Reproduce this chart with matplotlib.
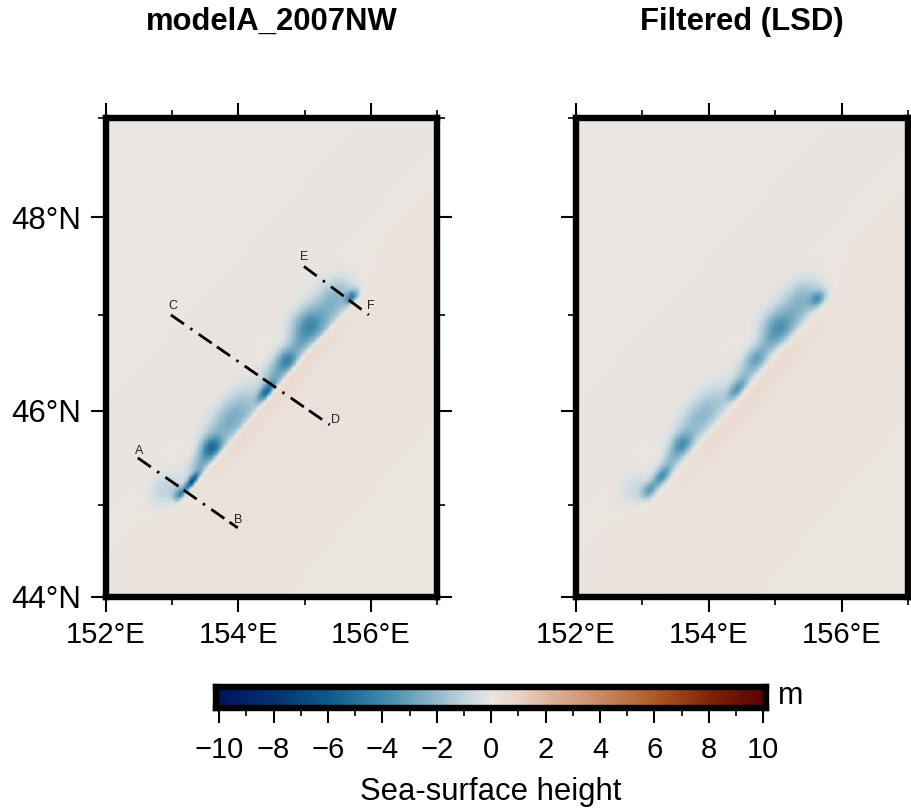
import numpy as np
import matplotlib
matplotlib.use("Agg")
import matplotlib.pyplot as plt
from matplotlib.colors import LinearSegmentedColormap
from matplotlib.ticker import NullFormatter

plt.rcParams['font.family'] = ['Liberation Sans', 'DejaVu Sans']
plt.rcParams['lines.scale_dashes'] = False

# colour scale samples (value fraction, colour)
cmap_pos = [0, .1, .2, .3, .4, .47, .5, .55, .6, .7, .8, .9, 1]
cmap_col = ['#001261', '#03326f', '#0c5a8e', '#3e88ab', '#93bacd', '#d3dee2', '#ebe5e0',
            '#e9d3c5', '#dfb69d', '#c98a62', '#ad5a24', '#7f2404', '#590008']

# SE edge of the elongated low
edge_lon = [153.12, 153.45, 154.58, 154.97, 155.83]
edge_lat = [45.06, 45.33, 46.25, 46.57, 47.20]

# left panel lows: lon, lat, amplitude (m), along-strike and cross-strike width (deg)
a_lon = [153.31, 153.14, 152.90, 153.44, 153.60, 153.78, 154.05, 154.43, 154.58, 154.75, 154.92, 155.05, 155.28, 155.72, 155.50]
a_lat = [45.24, 45.10, 45.17, 45.43, 45.61, 45.82, 46.00, 46.20, 46.38, 46.53, 46.70, 46.88, 47.00, 47.18, 47.22]
a_amp = [-6.8, -4.0, -1.1, -2.2, -4.1, -1.5, -1.7, -4.6, -2.2, -3.6, -1.6, -2.6, -2.0, -3.8, -1.2]
a_len = [0.16, 0.12, 0.28, 0.25, 0.18, 0.40, 0.45, 0.18, 0.22, 0.18, 0.20, 0.25, 0.45, 0.12, 0.28]
a_wid = [0.07, 0.11, 0.20, 0.15, 0.15, 0.24, 0.28, 0.09, 0.18, 0.17, 0.16, 0.24, 0.28, 0.09, 0.22]

# right panel lows
b_lon = [153.30, 153.11, 152.90, 153.45, 153.60, 153.78, 154.05, 154.44, 154.60, 154.74, 154.92, 155.05, 155.28, 155.65, 155.45]
b_lat = [45.29, 45.14, 45.17, 45.46, 45.64, 45.85, 46.03, 46.22, 46.40, 46.55, 46.72, 46.86, 47.03, 47.16, 47.20]
b_amp = [-3.8, -2.9, -0.8, -1.6, -2.9, -1.2, -1.4, -3.3, -1.4, -2.6, -1.2, -2.4, -1.9, -3.0, -0.9]
b_len = [0.18, 0.14, 0.28, 0.25, 0.20, 0.40, 0.45, 0.20, 0.22, 0.20, 0.20, 0.25, 0.45, 0.14, 0.28]
b_wid = [0.11, 0.11, 0.22, 0.15, 0.15, 0.24, 0.28, 0.11, 0.18, 0.17, 0.16, 0.24, 0.28, 0.11, 0.22]

# profile lines
prof_lon = [(152.48, 153.99), (152.98, 155.38), (154.99, 155.97)]
prof_lat = [(45.50, 44.75), (47.00, 45.85), (47.50, 47.00)]
lab_text = ['A', 'B', 'C', 'D', 'E', 'F']
lab_lon = [152.50, 154.00, 153.01, 155.46, 154.99, 156.00]
lab_lat = [45.57, 44.83, 47.09, 45.90, 47.60, 47.09]

lon_ticks = [152, 154, 156]
lat_ticks = [44, 46, 48]
lon_minor = [153, 155, 157]
lat_minor = [45, 47, 49]
cbar_ticks = list(range(-10, 11, 2))
cbar_minor = list(range(-9, 10, 2))

W, H = 912, 810
cmap = LinearSegmentedColormap.from_list('vikish', list(zip(cmap_pos, cmap_col)), N=512)


def rect(x0, x1, y0, y1):
    return [x0 / W, 1 - y1 / H, (x1 - x0) / W, (y1 - y0) / H]


def merc(lat):
    return np.degrees(np.arcsinh(np.tan(np.radians(lat))))


def imerc(y):
    return np.degrees(np.arctan(np.sinh(np.radians(y))))


def field(lons, lats, amp, length, width, soft, lobe_amp, lobe_w):
    X, Y = np.meshgrid(np.linspace(152, 157, 400), np.linspace(44, 49, 560))
    MY = merc(Y)
    th = np.radians(52)
    s_e, c_e = np.sin(th), np.cos(th)
    Z = np.zeros_like(X)
    for x0, y0, a, l, w in zip(lons, lats, amp, length, width):
        dx, dy = X - x0, MY - merc(y0)
        s = dx * c_e + dy * s_e
        n = -dx * s_e + dy * c_e
        Z += a * np.exp(-(s / l) ** 2 - (n / w) ** 2)
    # cross-strike distance from the edge: negative on the SE side
    e = np.interp(Y, edge_lat, edge_lon)
    e = np.where(Y < edge_lat[0], edge_lon[0] - 1.14 * (edge_lat[0] - Y), e)
    e = np.where(Y > edge_lat[-1], edge_lon[-1] + 1.3 * (Y - edge_lat[-1]), e)
    n = (e - X) * s_e
    mask = 1 / (1 + np.exp(-n / soft))
    Z = Z * mask
    # positive lobe on the SE side and gentle background
    along = (X - 154.5) * c_e + (MY - merc(46.2)) * s_e
    Z += lobe_amp * np.exp(-((n + lobe_w) / lobe_w) ** 2) * np.exp(-(along / 1.6) ** 4)
    Z += 0.20 * np.exp(-((n + 0.9) / 1.0) ** 2) - 0.08 * np.exp(-((n - 1.2) / 0.7) ** 2)
    return X, Y, Z


fig = plt.figure(figsize=(W / 100, H / 100), dpi=100, facecolor='white')
axL = fig.add_axes(rect(106, 437, 118, 597))
axR = fig.add_axes(rect(576, 908, 118, 597))

for ax, tbl, title, cx in [
    (axL, (a_lon, a_lat, a_amp, a_len, a_wid, 0.022, 0.50, 0.13), 'modelA_2007NW', 272),
    (axR, (b_lon, b_lat, b_amp, b_len, b_wid, 0.045, 0.45, 0.17), 'Filtered (LSD)', 742),
]:
    X, Y, Z = field(*tbl)
    ax.set_yscale('function', functions=(merc, imerc))
    ax.pcolormesh(X, Y, Z, cmap=cmap, vmin=-10, vmax=10, shading='auto', rasterized=True)
    ax.set_xlim(152, 157)
    ax.set_ylim(44, 49)
    ax.set_xticks(lon_ticks)
    ax.set_xticks(lon_minor, minor=True)
    ax.set_yticks(lat_ticks)
    ax.set_yticks(lat_minor, minor=True)
    ax.yaxis.set_minor_formatter(NullFormatter())
    ax.set_xticklabels([f'{v}°E' for v in lon_ticks])
    ax.set_yticklabels([f'{v}°N' for v in lat_ticks])
    ax.tick_params(which='major', length=11, width=1.5, top=True, right=True, bottom=True, left=True, pad=6)
    ax.tick_params(axis='x', which='major', labelsize=21)
    ax.tick_params(axis='y', which='major', labelsize=22.5, pad=7)
    ax.tick_params(which='minor', length=6, width=1.2, top=True, right=True, bottom=True, left=True)
    for sp in ax.spines.values():
        sp.set_linewidth(4.6)
        sp.set_zorder(5)
    fig.text(cx / W, 1 - 22 / H, title, ha='center', va='center', fontsize=22.3, fontweight='bold')
axR.set_yticklabels([])

for lo, la in zip(prof_lon, prof_lat):
    axL.plot(lo, la, color='black', lw=2.0, dash_capstyle='butt',
             linestyle=(16.0, (11.5, 4.5, 11.5, 5.5, 1.8, 5.5)))
for t, lo, la in zip(lab_text, lab_lon, lab_lat):
    axL.text(lo, la, t, fontsize=9, ha='center', va='center', color='#222222')

cax = fig.add_axes(rect(216.5, 766, 686.5, 708))
vals = np.linspace(-10, 10, 512)
cax.pcolormesh(vals, [0, 1], np.vstack([vals[:-1]]), cmap=cmap, vmin=-10, vmax=10, rasterized=True)
cax.set_xlim(-10.1, 10.1)
cax.set_ylim(0, 1)
cax.set_yticks([])
cax.set_xticks(cbar_ticks)
cax.set_xticks(cbar_minor, minor=True)
cax.set_xticklabels([str(v).replace('-', '\u2212') for v in cbar_ticks])
cax.tick_params(which='major', length=11, width=1.5, labelsize=21, pad=9)
cax.tick_params(which='minor', length=6, width=1.2)
for sp in cax.spines.values():
    sp.set_linewidth(4.6)
fig.text(791 / W, 1 - 696 / H, 'm', ha='center', va='center', fontsize=22)
fig.text(491 / W, 1 - 792 / H, 'Sea-surface height', ha='center', va='center', fontsize=22.3)

fig.savefig('out.png', dpi=100)
